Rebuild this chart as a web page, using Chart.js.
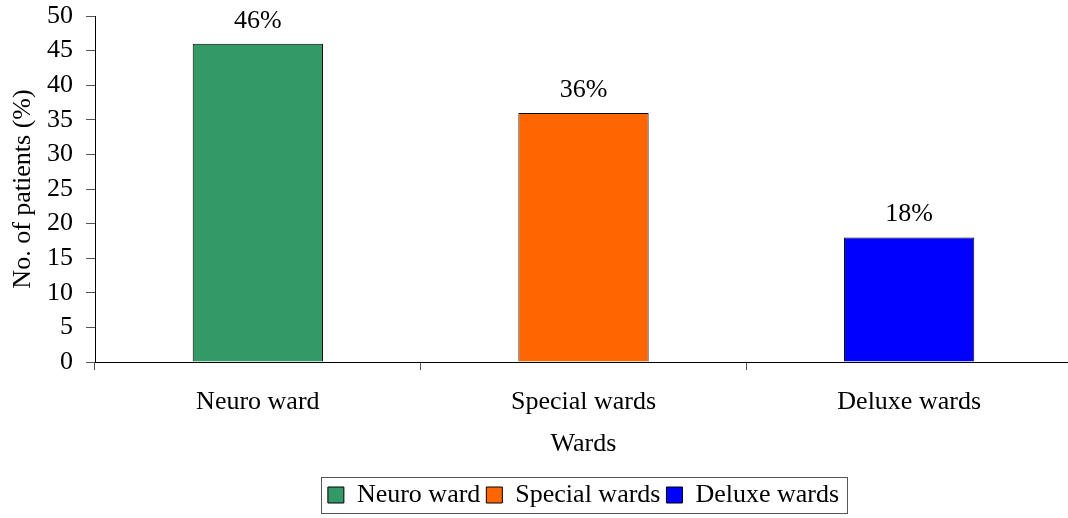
<!DOCTYPE html>
<html>
<head>
<meta charset="utf-8">
<script src="https://cdn.jsdelivr.net/npm/chart.js@4/dist/chart.umd.min.js"></script>
<style>
  html, body { margin: 0; padding: 0; background: #fff; overflow: hidden; }
  #wrap { width: 1068px; height: 518px; overflow: hidden; position: relative; }
  #box { width: 1080px; height: 518px; position: absolute; left: 0; top: 0; }
</style>
</head>
<body>
<div id="wrap"><div id="box"><canvas id="c"></canvas></div></div>
<script>
// Share of patients by ward type
const wards = ['Neuro ward', 'Special wards', 'Deluxe wards'];
const patientsPct = [46, 36, 18];
const wardColors = ['#339966', '#FF6600', '#0000FF'];
const yTicks = [0, 5, 10, 15, 20, 25, 30, 35, 40, 45, 50];

const serif = '"Liberation Serif", "Times New Roman", serif';
const FS = 26;

// Percent labels above each bar
const valueLabels = {
  id: 'valueLabels',
  afterDatasetsDraw(chart) {
    const ctx = chart.ctx;
    const meta = chart.getDatasetMeta(0);
    ctx.save();
    ctx.font = FS + 'px ' + serif;
    ctx.fillStyle = '#000';
    ctx.textAlign = 'center';
    ctx.textBaseline = 'alphabetic';
    meta.data.forEach((bar, i) => {
      ctx.fillText(patientsPct[i] + '%', bar.x, bar.y - 16);
    });
    ctx.restore();
  }
};

// Frame around the legend entries
const legendFrame = {
  id: 'legendFrame',
  afterDraw(chart) {
    const boxes = chart.legend && chart.legend.legendHitBoxes;
    if (!boxes || !boxes.length) return;
    const left = Math.min(...boxes.map(b => b.left)) - 7;
    const right = Math.max(...boxes.map(b => b.left + b.width)) + 8;
    const mid = boxes[0].top + boxes[0].height / 2;
    const ctx = chart.ctx;
    ctx.save();
    ctx.strokeStyle = '#555';
    ctx.lineWidth = 1;
    ctx.strokeRect(Math.round(left) + 0.5, Math.round(mid - 18) + 0.5, Math.round(right - left), 36);
    ctx.restore();
  }
};

new Chart(document.getElementById('c'), {
  type: 'bar',
  data: {
    labels: wards,
    datasets: [{
      label: 'No. of patients (%)',
      data: patientsPct,
      backgroundColor: wardColors,
      borderColor: '#000',
      borderWidth: 1,
      barPercentage: 0.4,
      categoryPercentage: 1.0
    }]
  },
  options: {
    responsive: true,
    maintainAspectRatio: false,
    animation: false,
    layout: { padding: { top: 16, right: 8, left: 0, bottom: 0 } },
    plugins: {
      tooltip: { enabled: false },
      legend: {
        display: true,
        position: 'bottom',
        fullSize: false,
        onClick: null,
        labels: {
          boxWidth: 16,
          boxHeight: 16,
          padding: 6,
          color: '#000',
          font: { family: serif, size: FS },
          generateLabels: () => wards.map((w, i) => ({
            text: w,
            fillStyle: wardColors[i],
            strokeStyle: '#000',
            lineWidth: 1,
            fontColor: '#000',
            hidden: false,
            index: i
          }))
        }
      }
    },
    scales: {
      x: {
        offset: true,
        grid: {
          offset: true,
          display: true,
          drawOnChartArea: false,
          drawTicks: true,
          tickLength: 8,
          color: '#555'
        },
        border: { display: true, color: '#000', width: 1 },
        ticks: {
          color: '#000',
          font: { family: serif, size: FS },
          padding: 17
        },
        title: {
          display: true,
          text: 'Wards',
          color: '#000',
          font: { family: serif, size: FS },
          padding: { top: 10, bottom: 16 }
        },
        afterFit(scale) { scale.height = 114; }
      },
      y: {
        min: 0,
        max: 50,
        afterBuildTicks(scale) { scale.ticks = yTicks.map(v => ({ value: v })); },
        grid: {
          display: true,
          drawOnChartArea: false,
          drawTicks: true,
          tickLength: 9,
          color: '#555'
        },
        border: { display: true, color: '#000', width: 1 },
        ticks: {
          color: '#000',
          font: { family: serif, size: FS },
          padding: 13
        },
        title: {
          display: true,
          text: 'No. of patients (%)',
          color: '#000',
          font: { family: serif, size: FS },
          padding: { top: 8, bottom: 0 }
        },
        afterFit(scale) {
          scale.width = 95;
          scale.paddingTop = 0;
          scale.paddingBottom = 0;
        }
      }
    }
  },
  plugins: [valueLabels, legendFrame]
});
</script>
</body>
</html>
